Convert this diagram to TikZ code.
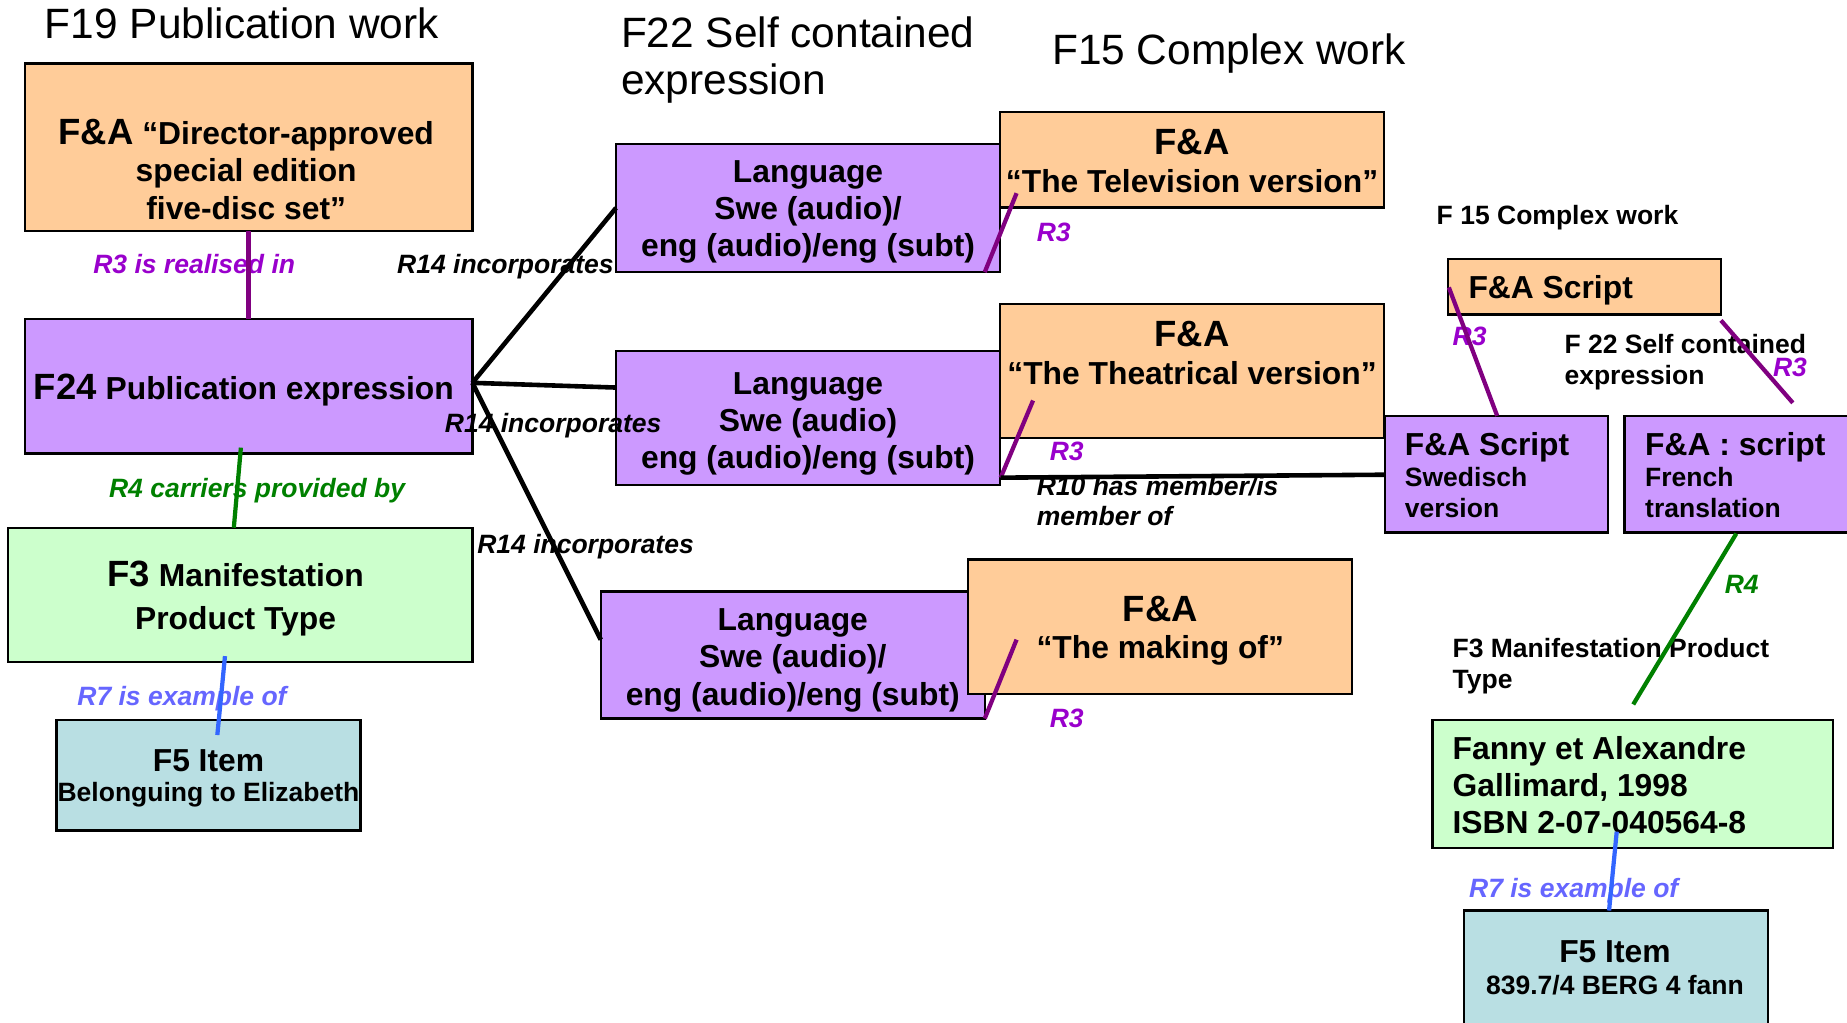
\documentclass[tikz,border=0pt]{standalone}
\usepackage{fontspec}
\setmainfont{Liberation Sans}
\definecolor{orgf}{HTML}{FFCC99}
\definecolor{purf}{HTML}{CC99FF}
\definecolor{grnf}{HTML}{CCFFCC}
\definecolor{tealf}{HTML}{B9DFE3}
\definecolor{plinec}{HTML}{800080}
\definecolor{plab}{HTML}{9900CC}
\definecolor{glinec}{HTML}{008000}
\definecolor{blinec}{HTML}{3366FF}
\definecolor{blab}{HTML}{6666FF}
\newcommand\MLc[1]{\vtop{\halign{\hfil##\hfil\cr#1\crcr}}}
\newcommand\MLl[1]{\vtop{\halign{##\hfil\cr#1\crcr}}}
\newcommand\rbox[6]{\node[#1, minimum width={(#5-#3)*1pt}, minimum height={(#6-#4)*1pt}] (#2) at ({(#3+#5)/2},{(#4+#6)/2}) {};}
\newcommand\FSbig{\fontsize{31}{32}\selectfont}
\newcommand\FSsmall{\fontsize{22.5}{26}\selectfont}
\tikzset{
  box/.style={draw=black, line width=2pt, inner sep=0pt, outer sep=0pt, rectangle},
  obox/.style={box, fill=orgf},
  pbox/.style={box, fill=purf},
  gbox/.style={box, fill=grnf},
  tbox/.style={box, fill=tealf},
  conn/.style={line width=3.6pt},
  pline/.style={conn, draw=plinec},
  gline/.style={conn, draw=glinec},
  bline/.style={conn, draw=blinec},
  kline/.style={conn, line width=3.9pt, draw=black},
  titletext/.style={font=\fontsize{36}{40}\selectfont, inner sep=0pt, anchor=base west},
  bt/.style={font=\bfseries\fontsize{27}{31.5}\selectfont, inner sep=0pt, anchor=base},
  btl/.style={bt, anchor=base west},
  st/.style={font=\bfseries\fontsize{22.5}{25.5}\selectfont, inner sep=0pt, anchor=base west},
  lab/.style={font=\bfseries\itshape\fontsize{22.5}{25}\selectfont, inner sep=0pt, anchor=base west},
}
\begin{document}
\begin{tikzpicture}[x=1pt,y=-1pt]
\useasboundingbox (0,0) rectangle (1568,868);
\clip (0,0) rectangle (1568,868);
% boxes
\rbox{obox}{b1}{21}{54}{401}{196}
\rbox{pbox}{f24}{21}{271}{401}{385}
\rbox{gbox}{f3}{7}{448}{401}{562}
\rbox{tbox}{f5a}{48}{611}{306}{705}
\rbox{pbox}{l1}{523}{122}{849}{231}
\rbox{pbox}{l2}{523}{298}{849}{412}
\rbox{pbox}{l3}{510}{502}{836}{610}
\rbox{obox}{o1}{849}{95}{1175}{176}
\rbox{obox}{o2}{849}{258}{1175}{372}
\rbox{obox}{o3}{822}{475}{1148}{589}
\rbox{obox}{scr}{1229}{220}{1461}{267}
\rbox{pbox}{swe}{1176}{353}{1365}{452}
\rbox{pbox}{fr}{1379}{353}{1580}{452}
\rbox{gbox}{fanny}{1216}{611}{1556}{720}
\rbox{tbox}{f5b}{1243}{773}{1501}{880}
% titles
\node[titletext] (tF19) at (38,32.5) {F19 Publication work};
\node[titletext] (tF22) at (527,40.5) {\MLl{F22 Self contained\cr expression}};
\node[titletext] (tF15) at (893,54.5) {F15 Complex work};
% box texts
\node[bt] (tb1) at (209,123) {\MLc{{\FSbig F\&A} “Director-approved\cr special edition\cr five-disc set”}};
\node[bt] (tf24) at (207,339.5) {{\FSbig F24} Publication expression};
\node[bt, font=\bfseries\fontsize{27}{36.5}\selectfont] (tf3) at (200,498) {\MLc{{\FSbig F3} Manifestation\cr Product Type}};
\node[bt, font=\bfseries\fontsize{27}{25.5}\selectfont] (tf5a) at (177,655) {\MLc{F5 Item\cr {\FSsmall Belonguing to Elizabeth}}};
\node[bt] (tl1) at (686,155) {\MLc{Language\cr Swe (audio)/\cr eng (audio)/eng (subt)}};
\node[bt] (tl2) at (686,334.5) {\MLc{Language\cr Swe (audio)\cr eng (audio)/eng (subt)}};
\node[bt] (tl3) at (673,535.5) {\MLc{Language\cr Swe (audio)/\cr eng (audio)/eng (subt)}};
\node[bt] (to1) at (1012,131.5) {\MLc{{\FSbig F\&A}\cr “The Television version”}};
\node[bt] (to2) at (1012,294.5) {\MLc{{\FSbig F\&A}\cr “The Theatrical version”}};
\node[bt] (to3) at (985,527.5) {\MLc{{\FSbig F\&A}\cr “The making of”}};
\node[btl] (tscr) at (1246.5,253) {F\&A Script};
\node[btl, font=\bfseries\fontsize{27}{26.3}\selectfont] (tswe) at (1192.5,386.5) {\MLl{F\&A Script\cr {\FSsmall Swedisch}\cr {\FSsmall version}}};
\node[btl, font=\bfseries\fontsize{27}{26.3}\selectfont] (tfr) at (1396.5,386.5) {\MLl{F\&A : script\cr {\FSsmall French}\cr {\FSsmall translation}}};
\node[btl, font=\bfseries\fontsize{27}{31.25}\selectfont] (tfanny) at (1233,645) {\MLl{Fanny et Alexandre\cr Gallimard, 1998\cr ISBN 2-07-040564-8}};
\node[bt, font=\bfseries\fontsize{27}{27}\selectfont] (tf5b) at (1371,817.5) {\MLc{F5 Item\cr {\FSsmall 839.7/4 BERG 4 fann}}};
% small headings
\node[st] (hF15) at (1219.5,191) {F 15 Complex work};
\node[st] (hF22) at (1328,300.5) {\MLl{F 22 Self contained\cr expression}};
\node[st, font=\bfseries\fontsize{22.5}{26}\selectfont] (hF3) at (1233,558.5) {\MLl{F3 Manifestation Product\cr Type}};
% labels
\node[lab, text=plab] (lR3a) at (79,232) {R3 is realised in};
\node[lab] (lR14a) at (337,232) {R14 incorporates};
\node[lab] (lR14b) at (377.5,367) {R14 incorporates};
\node[lab] (lR14c) at (405,469.5) {R14 incorporates};
\node[lab, text=glinec] (lR4a) at (92.4,422) {R4 carriers provided by};
\node[lab, text=blab] (lR7a) at (65.5,598.5) {R7 is example of};
\node[lab, text=blab] (lR7b) at (1247,761.5) {R7 is example of};
\node[lab, text=plab] (lR3b) at (880,205) {R3};
\node[lab, text=plab] (lR3c) at (891,391) {R3};
\node[lab, text=plab] (lR3d) at (891,618) {R3};
\node[lab, text=plab] (lR3e) at (1233,293) {R3};
\node[lab, text=plab] (lR3f) at (1505,320) {R3};
\node[lab] (lR10) at (880,421) {\MLl{R10 has member/is\cr member of}};
\node[lab, text=glinec] (lR4b) at (1464,503.5) {R4};
% connector end points
\coordinate (hub) at (401,325);
\coordinate (l2in) at (523,329);
\coordinate (l3in) at (510,543);
\coordinate (g1a) at (204.5,380);
\coordinate (g1b) at (198.5,448);
\coordinate (u1a) at (191,557);
\coordinate (u1b) at (184.5,624);
\coordinate (r1a) at (836,231);
\coordinate (r1b) at (863,164);
\coordinate (r2a) at (849.5,405.5);
\coordinate (r2b) at (877,340);
\coordinate (r3a) at (836,610);
\coordinate (r3b) at (863,543);
\coordinate (sweL) at (1176,403);
\coordinate (s1a) at (1230,244);
\coordinate (s1b) at (1271,353);
\coordinate (s2a) at (1461,272);
\coordinate (s2b) at (1522,342);
\coordinate (g2a) at (1474,453);
\coordinate (g2b) at (1386.5,598);
\coordinate (u2a) at (1372.5,706);
\coordinate (u2b) at (1366,773);
% connectors
\draw[pline] (b1.south) -- (f24.north);
\draw[gline] (g1a) -- (g1b);
\draw[bline] (u1a) -- (u1b);
\draw[kline] (hub) -- (l1.west);
\draw[kline] (hub) -- (l2in);
\draw[kline] (hub) -- (l3in);
\draw[pline] (r1a) -- (r1b);
\draw[pline] (r2a) -- (r2b);
\draw[pline] (r3a) -- (r3b);
\draw[kline] (r2a) -- (sweL);
\draw[pline] (s1a) -- (s1b);
\draw[pline] (s2a) -- (s2b);
\draw[gline] (g2a) -- (g2b);
\draw[bline] (u2a) -- (u2b);
\end{tikzpicture}
\end{document}
